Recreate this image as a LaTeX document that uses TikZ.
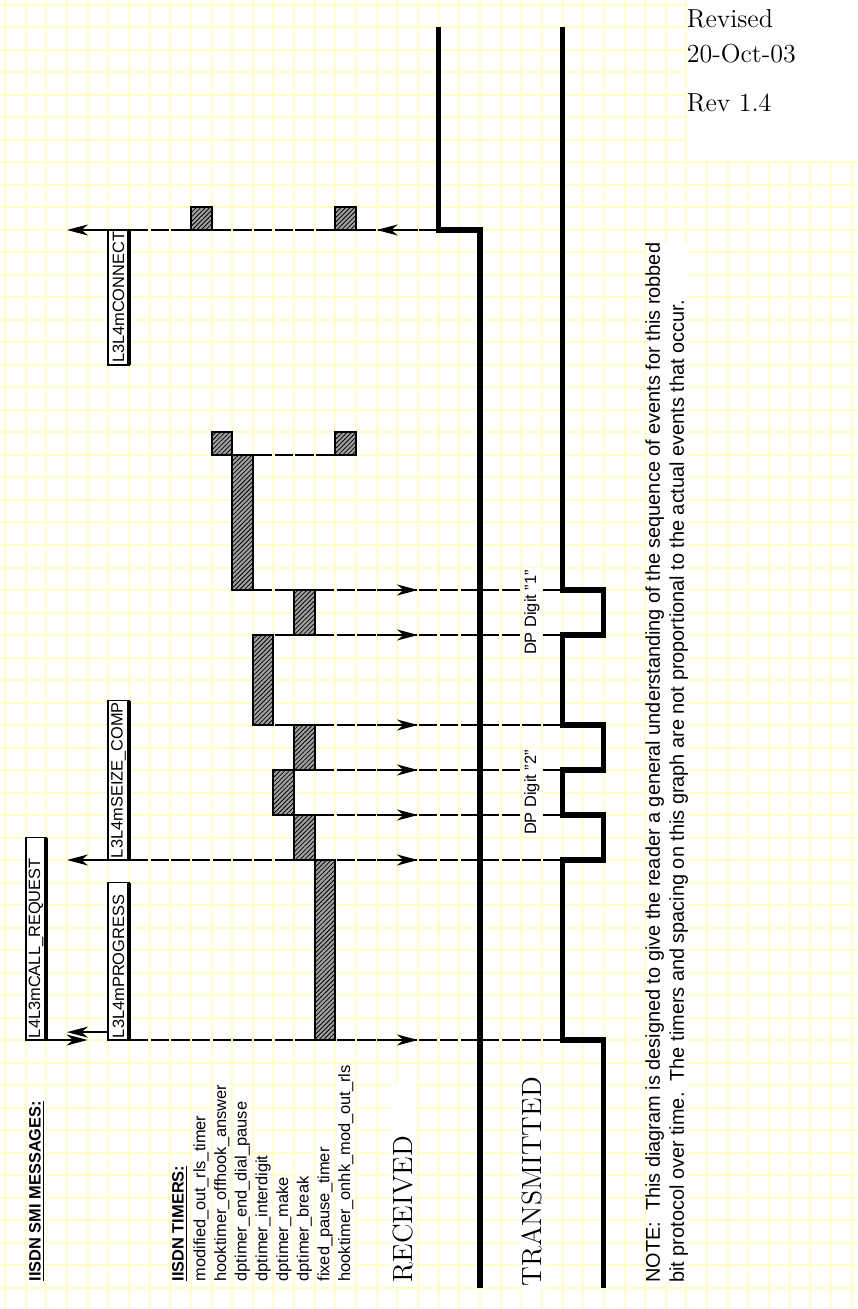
\documentclass[tikz,border=0pt]{standalone}
\usepackage{fontspec}
\setsansfont{Liberation Sans}
\usepackage{tikz}
\usetikzlibrary{arrows.meta, patterns.meta, decorations.markings}
\definecolor{cgrid}{HTML}{FFFFC4}
\definecolor{chatch}{HTML}{A0A0A0}
\newcommand{\lblfont}{\fontsize{8.2}{9.8}\selectfont\sffamily}
\newcommand{\notefont}{\fontsize{9.95}{12}\selectfont\sffamily}
\newcommand{\bigser}{\fontsize{13.9}{16}\selectfont\rmfamily}
\newcommand{\revfont}{\fontsize{13}{17.5}\selectfont\rmfamily}

\begin{document}
\begin{tikzpicture}[
  x=10.325pt, y=-11.25pt,
  gridln/.style={draw=cgrid, line width=1pt},
  wave/.style={line width=2.6pt, line join=miter},
  tmr/.style={draw=black, fill=chatch, line width=1pt, inner sep=0pt, outer sep=0pt,
              minimum width=10.325pt, anchor=north west,
              postaction={pattern={Lines[angle=45,distance=1.6pt,line width=0.4pt]}}},
  msg/.style={draw=black, fill=white, line width=0.9pt, rotate=90, anchor=south west,
              font=\lblfont, inner xsep=1pt, inner ysep=0pt, outer sep=0pt,
              minimum height=10.325pt, align=left},
  tlbl/.style={rotate=90, anchor=west, font=\lblfont, fill=white, inner sep=0.6pt},
  dplbl/.style={rotate=90, font=\lblfont, fill=white, inner sep=1.2pt},
  sig/.style={line width=0.6pt, dash pattern=on 9.125pt off 1.2pt, dash phase=9.725pt},
  tip/.style={-{Stealth[length=10.5pt,width=5.5pt,inset=3.2pt]}, line width=1pt},
  midarr/.style={postaction={decorate, decoration={markings,
      mark=at position #1*10.325pt with {\draw[tip, solid] (-20.65pt,0pt) -- (0pt,0pt);}}}}
]
\path[use as bounding box, fill=white] (-0.2421,-0.2222) rectangle (41.2591,57.9556);
\foreach \c in {0,...,41} \draw[gridln] (\c,-0.2222) -- (\c,57.9556);
\foreach \r in {0,...,57} \draw[gridln] (-0.2421,\r) -- (41.2591,\r);
\fill[white] (33.05,-0.2222) rectangle (41.2591,6.955);

\node[anchor=north west, inner sep=0pt, align=left, font=\revfont] (rev) at (33,0.2)
  {Revised\\20-Oct-03\\[7pt]Rev 1.4};

\node[tlbl, font=\lblfont\bfseries] (smititle) at (1.55,56.8) {\underline{IISDN SMI MESSAGES:}};
\node[tlbl, font=\lblfont\bfseries] (tmrtitle) at (8.47,56.8) {\underline{IISDN TIMERS:}};
\foreach \t [count=\i from 0] in {modified\_out\_rls\_timer, hooktimer\_offhook\_answer,
    dptimer\_end\_dial\_pause, dptimer\_interdigit, dptimer\_make, dptimer\_break,
    fixed\_pause\_timer, hooktimer\_onhk\_mod\_out\_rls}
  \node[tlbl] (tl\i) at (9.5+\i,56.8) {\t};

\node[rotate=90, anchor=west, fill=white, font=\bigser, inner sep=1.6pt,
      text width=98pt, align=left] (rxlbl) at (19.27,56.93) {RECEIVED};
\node[rotate=90, anchor=west, fill=white, font=\bigser, inner sep=1.6pt] (txlbl) at (25.52,57.1) {TRANSMITTED};
\node[rotate=90, anchor=north west, fill=white, font=\notefont, align=left, inner sep=0pt] (note) at (31.0,56.8)
  {NOTE:\ \ This diagram is designed to give the reader a general understanding of the sequence of events for this robbed\\
   bit protocol over time.\ \ The timers and spacing on this graph are not proportional to the actual events that occur.};

\node[tmr, minimum height=11.25pt] (mort) at (9,9) {};
\node[tmr, minimum height=11.25pt] (onhka) at (16,9) {};
\node[tmr, minimum height=11.25pt] (offhk) at (10,19) {};
\node[tmr, minimum height=11.25pt] (onhkb) at (16,19) {};
\node[tmr, minimum height=6*11.25pt] (edp) at (11,20) {};
\node[tmr, minimum height=2*11.25pt] (brka) at (14,26) {};
\node[tmr, minimum height=4*11.25pt] (idg) at (12,28) {};
\node[tmr, minimum height=2*11.25pt] (brkb) at (14,32) {};
\node[tmr, minimum height=2*11.25pt] (mk) at (13,34) {};
\node[tmr, minimum height=2*11.25pt] (brkc) at (14,36) {};
\node[tmr, minimum height=8*11.25pt] (fpt) at (15,38) {};

\node[msg, text width=65.5pt] (conn) at (6,16) {L3L4mCONNECT};
\node[msg, text width=77.75pt] (seize) at (6,38) {L3L4mSEIZE\_COMP};
\node[msg, text width=99.25pt] (callreq) at (2,46) {L4L3mCALL\_REQUEST};
\node[msg, text width=76.75pt] (progr) at (6,46) {L3L4mPROGRESS};
\foreach \m in {conn,seize,callreq,progr}
  \draw[line width=1.8pt] (\m.south west) -- (\m.south east);

\coordinate (rx10) at (21,10);
\foreach \r in {26,28,32,34,36,38,46} \coordinate (tx\r) at (27,\r);
\coordinate (conntip) at (3,10);
\coordinate (seizetip) at (3,38);
\coordinate (progrtip) at (3,45.65);
\coordinate (crtip) at (4,46);

\draw[sig, midarr=3] (rx10) -- (conn.south east);
\draw[tip] (conn.north east) -- (conntip);
\draw[sig] (edp.north east) -- (onhkb.south west);
\draw[sig, midarr=8] (edp.south east) -- (tx26);
\draw[sig, midarr=7] (idg.north east) -- (tx28);
\draw[sig, midarr=7] (idg.south east) -- (tx32);
\draw[sig, midarr=6] (mk.north east) -- (tx34);
\draw[sig, midarr=6] (mk.south east) -- (tx36);
\draw[sig, midarr=14] (seize.south west) -- (tx38);
\draw[tip] (seize.north west) -- (seizetip);
\draw[sig, midarr=14] (progr.south west) -- (tx46);
\draw[tip] (callreq.south west) -- (crtip);
\draw[tip] (progr.north west |- progrtip) -- (progrtip);

\node[dplbl] (dpa) at (25.52,27) {DP Digit "1"};
\node[dplbl] (dpb) at (25.52,35) {DP Digit "2"};

\draw[wave] (21,1) -- (21,10) -- (23,10) -- (23,57);
\draw[wave] (27,1) -- (27,26) -- (29,26) -- (29,28) -- (27,28) -- (27,32) -- (29,32) -- (29,34)
  -- (27,34) -- (27,36) -- (29,36) -- (29,38) -- (27,38) -- (27,46) -- (29,46) -- (29,57);
\end{tikzpicture}
\end{document}
